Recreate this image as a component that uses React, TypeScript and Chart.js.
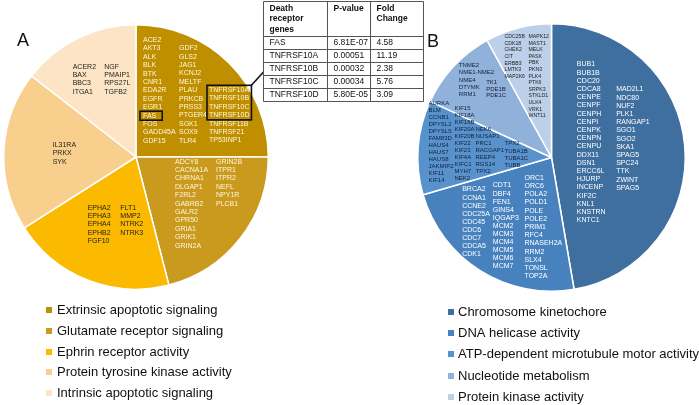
import React, { useEffect, useRef } from "react";
import { Chart, registerables } from "chart.js";
Chart.register(...registerables);

// ---------- data ----------
const categoriesA = [
  "Extrinsic apoptotic signaling",
  "Glutamate receptor signaling",
  "Ephrin receptor activity",
  "Protein tyrosine kinase activity",
  "Intrinsic apoptotic signaling",
];
const valuesA = [25, 21, 20, 19.5, 14.5];
const colorsA = ["#BF8F00", "#C99A1E", "#FBB900", "#F9CF8E", "#FCE4C4"];

const categoriesB = [
  "Chromosome kinetochore",
  "DNA helicase activity",
  "ATP-dependent microtubule motor activity",
  "Nucleotide metabolism",
  "Protein kinase activity",
];
const valuesB = [47.3, 23.2, 11.4, 10.1, 8.0];
const colorsB = ["#3F6F9F", "#4782BF", "#5892CD", "#8FB1DA", "#BDD0EA"];

const extrinsicCol1 = ["ACE2", "AKT3", "ALK", "BLK", "BTK", "CNR1", "EDA2R", "EGFR", "EGR1", "FAS", "FOS", "GADD45A", "GDF15"];
const extrinsicCol2 = ["GDF2", "GLS2", "JAG1", "KCNJ2", "MELTF", "PLAU", "PRKCB", "PRSS3", "PTGER4", "SGK1", "SOX9", "TLR4"];
const extrinsicCol3 = ["TNFRSF10A", "TNFRSF10B", "TNFRSF10C", "TNFRSF10D", "TNFRSF11B", "TNFRSF21", "TP53INP1"];
const glutamateCol1 = ["ADCY8", "CACNA1A", "CHRNA1", "DLGAP1", "F2RL2", "GABRB2", "GALR2", "GPR50", "GRIA1", "GRIK1", "GRIN2A"];
const glutamateCol2 = ["GRIN2B", "ITPR1", "ITPR2", "NEFL", "NPY1R", "PLCB1"];
const ephrinCol1 = ["EPHA2", "EPHA3", "EPHA4", "EPHB2", "FGF10"];
const ephrinCol2 = ["FLT1", "MMP2", "NTRK2", "NTRK3"];
const tyrosineKinaseGenes = ["IL31RA", "PRKX", "SYK"];
const intrinsicCol1 = ["ACER2", "BAX", "BBC3", "ITGA1"];
const intrinsicCol2 = ["NGF", "PMAIP1", "RPS27L", "TGFB2"];

const kinetochoreCol1 = ["BUB1", "BUB1B", "CDC20", "CDCA8", "CENPE", "CENPF", "CENPH", "CENPI", "CENPK", "CENPN", "CENPU", "DDX11", "DSN1", "ERCC6L", "HJURP", "INCENP", "KIF2C", "KNL1", "KNSTRN", "KNTC1"];
const kinetochoreCol2 = ["MAD2L1", "NDC80", "NUF2", "PLK1", "RANGAP1", "SGO1", "SGO2", "SKA1", "SPAG5", "SPC24", "TTK", "ZWINT", "SPAG5"];
const helicaseCol1 = ["BRCA2", "CCNA1", "CCNE2", "CDC25A", "CDC45", "CDC6", "CDC7", "CDCA5", "CDK1"];
const helicaseCol2 = ["CDT1", "DBF4", "FEN1", "GINS4", "IQGAP3", "MCM2", "MCM3", "MCM4", "MCM5", "MCM6", "MCM7"];
const helicaseCol3 = ["ORC1", "ORC6", "POLA2", "POLD1", "POLE", "POLE2", "PRIM1", "RFC4", "RNASEH2A", "RRM2", "SLX4", "TONSL", "TOP2A"];
const motorCol1 = ["AURKA", "BLM", "CCNB1", "DPYSL2", "DPYSL5", "FAM83D", "HAUS4", "HAUS7", "HAUS8", "JAKMIP2", "KIF11", "KIF14"];
const motorCol2 = ["KIF15", "KIF18A", "KIF18B", "KIF20A", "KIF20B", "KIF22", "KIF23", "KIF4A", "KIFC1", "MYH7", "NEK2"];
const motorCol3 = ["NEK6", "NUSAP1", "PRC1", "RACGAP1", "REEP4", "RGS14", "TPX2"];
const motorCol4 = ["TPX2", "TUBA1B", "TUBA1C", "TUBB"];
const nucleotideCol1 = ["TNME2", "NME1-NME2", "NME4", "DTYMK", "RRM1"];
const nucleotideCol2 = ["TK1", "PDE1B", "PDE1C"];
const kinaseCol1 = ["CDC25B", "CDK18", "CHEK2", "CIT", "ERBB3", "LMTK3", "MAP2K6"];
const kinaseCol2 = ["MAPK12", "MAST1", "MELK", "PASK", "PBK", "PKN3", "PLK4", "PTK6", "SRPK3", "STKLD1", "ULK4", "VRK1", "WNT11"];

const tableHeaderGene = ["Death", "receptor", "genes"];
const tableHeaderP = ["P-value"];
const tableHeaderFold = ["Fold", "Change"];
const tableGenes = ["FAS", "TNFRSF10A", "TNFRSF10B", "TNFRSF10C", "TNFRSF10D"];
const tablePValues = ["6.81E-07", "0.00051", "0.00032", "0.00034", "5.80E-05"];
const tableFoldChanges = ["4.58", "11.19", "2.38", "5.76", "3.09"];
const boxedSingle = ["FAS"];
const boxedGroup = ["TNFRSF10A", "TNFRSF10B", "TNFRSF10C", "TNFRSF10D"];

// ---------- layout (offsets from the pie centre) ----------
const FONT = "'Liberation Sans', Arial, sans-serif";
type Block = { lines: string[]; dx: number; dy: number; size: number; lh: number; color: string };
const LIGHT_A = "#FFF6DC";
const DARK = "#1E1E1E";
const NAVY = "#14213A";
const blocksA: Block[] = [
  { lines: extrinsicCol1, dx: 7, dy: -117, size: 7, lh: 8.4, color: LIGHT_A },
  { lines: extrinsicCol2, dx: 43, dy: -108.7, size: 7, lh: 8.4, color: LIGHT_A },
  { lines: extrinsicCol3, dx: 73, dy: -67, size: 7, lh: 8.4, color: LIGHT_A },
  { lines: glutamateCol1, dx: 39, dy: 4.7, size: 7, lh: 8.4, color: LIGHT_A },
  { lines: glutamateCol2, dx: 80, dy: 4.7, size: 7, lh: 8.4, color: LIGHT_A },
  { lines: ephrinCol1, dx: -48.3, dy: 51.3, size: 7, lh: 8.1, color: DARK },
  { lines: ephrinCol2, dx: -15.7, dy: 51.3, size: 7, lh: 8.1, color: DARK },
  { lines: tyrosineKinaseGenes, dx: -83.3, dy: -12, size: 7, lh: 8.3, color: DARK },
  { lines: intrinsicCol1, dx: -63.3, dy: -90.3, size: 7, lh: 8.3, color: DARK },
  { lines: intrinsicCol2, dx: -31.7, dy: -90.3, size: 7, lh: 8.3, color: DARK },
];
const blocksB: Block[] = [
  { lines: kinetochoreCol1, dx: 25.3, dy: -93, size: 7, lh: 8.2, color: "#FFFFFF" },
  { lines: kinetochoreCol2, dx: 64.7, dy: -68, size: 7, lh: 8.2, color: "#FFFFFF" },
  { lines: helicaseCol1, dx: -89.3, dy: 32, size: 7, lh: 8.1, color: "#FFFFFF" },
  { lines: helicaseCol2, dx: -58.7, dy: 28, size: 7, lh: 8.1, color: "#FFFFFF" },
  { lines: helicaseCol3, dx: -27, dy: 20.3, size: 7, lh: 8.2, color: "#FFFFFF" },
  { lines: motorCol1, dx: -123, dy: -54.3, size: 6, lh: 7, color: NAVY },
  { lines: motorCol2, dx: -97, dy: -48.7, size: 6, lh: 7, color: NAVY },
  { lines: motorCol3, dx: -76, dy: -27.7, size: 6, lh: 7, color: NAVY },
  { lines: motorCol4, dx: -47, dy: -13.7, size: 6, lh: 7.2, color: NAVY },
  { lines: nucleotideCol1, dx: -92.7, dy: -92, size: 6, lh: 7.3, color: NAVY },
  { lines: nucleotideCol2, dx: -65.3, dy: -75.3, size: 6, lh: 6.8, color: NAVY },
  { lines: kinaseCol1, dx: -47, dy: -121, size: 5.2, lh: 6.7, color: "#222" },
  { lines: kinaseCol2, dx: -23, dy: -121, size: 5.2, lh: 6.6, color: "#222" },
];

function drawBlocks(ctx: CanvasRenderingContext2D, cx: number, cy: number, blocks: Block[], boxes: boolean) {
  ctx.textAlign = "left";
  ctx.textBaseline = "middle";
  const single: number[][] = [];
  const group: number[][] = [];
  for (const b of blocks) {
    ctx.font = `${b.size}px ${FONT}`;
    ctx.fillStyle = b.color;
    b.lines.forEach((t, i) => {
      const x = cx + b.dx;
      const y = cy + b.dy + i * b.lh;
      ctx.fillText(t, x, y);
      if (boxes) {
        const w = ctx.measureText(t).width;
        if (boxedSingle.includes(t)) single.push([x, y, w, b.lh]);
        if (boxedGroup.includes(t)) group.push([x, y, w, b.lh]);
      }
    });
  }
  if (boxes) {
    ctx.strokeStyle = "#111";
    ctx.lineWidth = 1.6;
    for (const [x, y, w, lh] of single) {
      ctx.strokeRect(x - 3, y - lh / 2 - 0.2, w + 9, lh + 0.6);
    }
    if (group.length) {
      const x0 = Math.min(...group.map((g) => g[0])) - 2;
      const x1 = Math.max(...group.map((g) => g[0] + g[2])) + 2;
      const y0 = Math.min(...group.map((g) => g[1] - g[3] / 2)) - 0.5;
      const y1 = Math.max(...group.map((g) => g[1] + g[3] / 2)) + 0.5;
      ctx.strokeRect(x0, y0, x1 - x0, y1 - y0);
      ctx.beginPath();
      ctx.moveTo(x1, y0);
      ctx.lineTo(263.5, 72);
      ctx.stroke();
    }
  }
}

function drawLegend(ctx: CanvasRenderingContext2D, labels: string[], colors: string[], mx: number, tx: number, ys: number[]) {
  ctx.font = `13px ${FONT}`;
  ctx.textAlign = "left";
  ctx.textBaseline = "middle";
  labels.forEach((l, i) => {
    ctx.fillStyle = colors[i];
    ctx.fillRect(mx, ys[i] - 3, 6, 6);
    ctx.fillStyle = "#111";
    ctx.fillText(l, tx, ys[i]);
  });
}

function drawTable(ctx: CanvasRenderingContext2D) {
  const left = 263.5, right = 423.5, top = 1.5;
  const colX = [left, 327.5, 370.5, right];
  const rowY = [top, 36.5, 49.5, 62.5, 75.5, 88.5, 101.5];
  ctx.strokeStyle = "#555";
  ctx.lineWidth = 1;
  ctx.beginPath();
  for (const y of rowY) { ctx.moveTo(left, y); ctx.lineTo(right, y); }
  for (const x of colX) { ctx.moveTo(x, top); ctx.lineTo(x, rowY[rowY.length - 1]); }
  ctx.stroke();
  ctx.fillStyle = "#111";
  ctx.textAlign = "left";
  ctx.textBaseline = "middle";
  ctx.font = `bold 8.5px ${FONT}`;
  const hy = [8.5, 19, 29.5];
  tableHeaderGene.forEach((t, i) => ctx.fillText(t, colX[0] + 6, hy[i]));
  tableHeaderP.forEach((t, i) => ctx.fillText(t, colX[1] + 6, hy[i]));
  tableHeaderFold.forEach((t, i) => ctx.fillText(t, colX[2] + 6, hy[i]));
  ctx.font = `8.5px ${FONT}`;
  tableGenes.forEach((g, i) => {
    const y = (rowY[i + 1] + rowY[i + 2]) / 2;
    ctx.fillText(g, colX[0] + 6, y);
    ctx.fillText(tablePValues[i], colX[1] + 6, y);
    ctx.fillText(tableFoldChanges[i], colX[2] + 6, y);
  });
}

function makeChart(
  canvas: HTMLCanvasElement,
  labels: string[],
  values: number[],
  colors: string[],
  padding: { left: number; top: number; right: number; bottom: number },
  extra: (chart: any, cx: number, cy: number) => void
) {
  return new Chart(canvas, {
    type: "pie",
    data: {
      labels,
      datasets: [{ data: values, backgroundColor: colors, borderColor: "#ffffff", borderWidth: 1.5 }],
    },
    options: {
      responsive: false,
      maintainAspectRatio: false,
      animation: false,
      layout: { padding },
      plugins: { legend: { display: false }, tooltip: { enabled: false } },
    },
    plugins: [
      {
        id: "extraText",
        afterDatasetsDraw(chart: any) {
          const arc = chart.getDatasetMeta(0).data[0];
          const ctx = chart.ctx;
          ctx.save();
          extra(chart, arc.x, arc.y);
          ctx.restore();
        },
      },
    ],
  });
}

export default function App() {
  const refA = useRef<HTMLCanvasElement>(null);
  const refB = useRef<HTMLCanvasElement>(null);
  useEffect(() => {
    const a = makeChart(refA.current!, categoriesA, valuesA, colorsA, { left: 3, top: 24, right: 430, bottom: 115 }, (chart, cx, cy) => {
      const ctx = chart.ctx;
      drawBlocks(ctx, cx, cy, blocksA, true);
      drawTable(ctx);
      drawLegend(ctx, categoriesA, colorsA, 46, 57, [310, 331, 352, 372, 393]);
      ctx.font = `18px ${FONT}`;
      ctx.fillStyle = "#111";
      ctx.textBaseline = "middle";
      ctx.fillText("A", 17, 41);
    });
    const b = makeChart(refB.current!, categoriesB, valuesB, colorsB, { left: 417, top: 23, right: 13, bottom: 113 }, (chart, cx, cy) => {
      const ctx = chart.ctx;
      drawBlocks(ctx, cx, cy, blocksB, false);
      drawLegend(ctx, categoriesB, colorsB, 448, 458, [312, 333, 354, 376, 397]);
      ctx.font = `18px ${FONT}`;
      ctx.fillStyle = "#111";
      ctx.textBaseline = "middle";
      ctx.fillText("B", 427, 42);
    });
    return () => {
      a.destroy();
      b.destroy();
    };
  }, []);
  const cs: React.CSSProperties = { position: "absolute", left: 0, top: 0, width: 699, height: 405 };
  return (
    <div style={{ position: "fixed", left: 0, top: 0, width: 699, height: 405, background: "#fff" }}>
      <canvas ref={refA} width={699} height={405} style={cs} />
      <canvas ref={refB} width={699} height={405} style={cs} />
    </div>
  );
}
